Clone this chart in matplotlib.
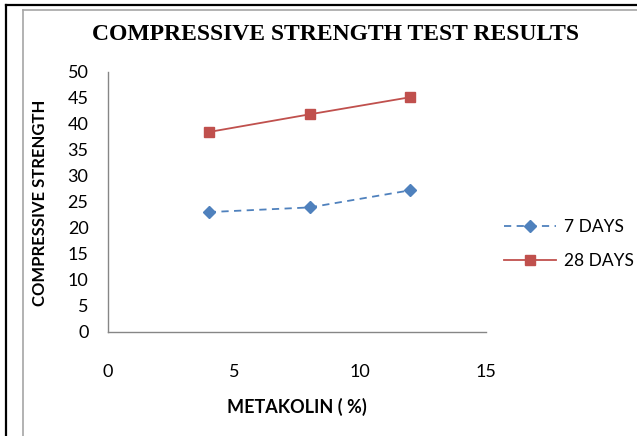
import matplotlib
matplotlib.use('Agg')
from matplotlib import pyplot as plt
from matplotlib.lines import Line2D

# metakaolin content (%) and strength values
metakolin = [4, 8, 12]
days_7 = [23.0, 23.9, 27.2]
days_28 = [38.4, 41.8, 45.1]
y_ticks = [0, 5, 10, 15, 20, 25, 30, 35, 40, 45, 50]
x_ticks = [0, 5, 10, 15]

W, H = 637, 436
plt.rcParams['font.family'] = ['Lato', 'DejaVu Sans']

fig = plt.figure(figsize=(W / 100, H / 100), dpi=100)
fig.patch.set_facecolor('white')

# page frame (black) and chart area frame (grey)
fig.add_artist(Line2D([6 / W, 6 / W], [0, 1 - 5 / H], color='black', lw=1.6))
fig.add_artist(Line2D([6 / W, 1], [1 - 5 / H, 1 - 5 / H], color='black', lw=1.6))
fig.add_artist(Line2D([23 / W, 23 / W], [0, 1 - 10 / H], color='#a6a6a6', lw=1.2))
fig.add_artist(Line2D([23 / W, 1], [1 - 10 / H, 1 - 10 / H], color='#a6a6a6', lw=1.2))

left, right = 108 / W, 486 / W
bottom, top = 1 - 331.7 / H, 1 - 71.7 / H
ax = fig.add_axes([left, bottom, right - left, top - bottom])

ax.plot(metakolin, days_7, color='#4F81BD', ls=(0, (4, 3)), lw=1.3,
        marker='D', ms=6, label='7 DAYS')
ax.plot(metakolin, days_28, color='#C0504D', ls='-', lw=1.3,
        marker='s', ms=7, label='28 DAYS')

ax.set_xlim(0, 15)
ax.set_ylim(0, 50)
ax.set_xticks(x_ticks)
ax.set_yticks(y_ticks)
ax.tick_params(length=0, labelsize=13)
ax.tick_params(axis='x', pad=23)
ax.tick_params(axis='y', pad=14)
for s in ['top', 'right']:
    ax.spines[s].set_visible(False)
for s in ['left', 'bottom']:
    ax.spines[s].set_color('#868686')
    ax.spines[s].set_linewidth(1.0)

fig.text(40 / W, 1 - 203 / H, 'COMPRESSIVE STRENGTH', rotation=90,
         ha='center', va='center', fontsize=12, fontweight='bold')
fig.text(297 / W, 1 - 407 / H, 'METAKOLIN ( %)', ha='center', va='center',
         fontsize=13, fontweight='bold')
fig.text(336 / W, 1 - 34 / H, 'COMPRESSIVE STRENGTH TEST RESULTS',
         ha='center', va='center', fontsize=17, fontweight='bold',
         family='Liberation Serif')

leg = fig.legend(loc='center left', bbox_to_anchor=(495 / W, 1 - 244 / H),
                 frameon=False, fontsize=12.5, handlelength=3.0,
                 handletextpad=0.45, labelspacing=1.0, borderpad=0)

fig.savefig('out.png', dpi=100)
